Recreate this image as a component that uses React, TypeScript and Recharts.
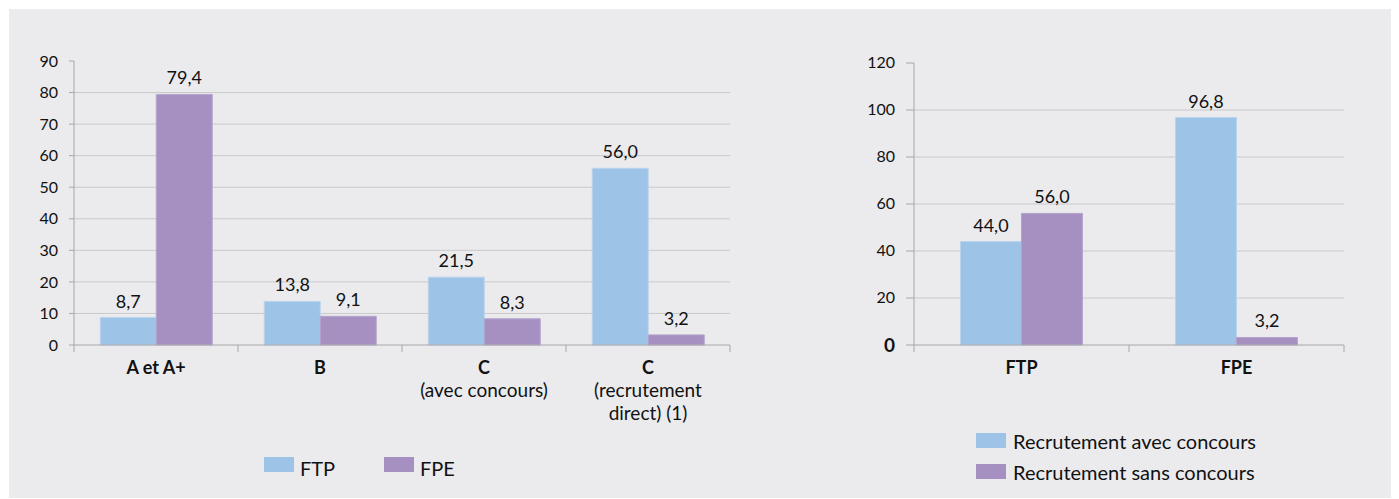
import React from "react";
import { BarChart, Bar, XAxis, YAxis, CartesianGrid, LabelList } from "recharts";

// ---- Data ----
const leftCategories = ["A et A+", "B", "C", "C"];
const leftSubLabels = [[], [], ["(avec concours)"], ["(recrutement", "direct) (1)"]];
const leftFTP = [8.7, 13.8, 21.5, 56.0];
const leftFPE = [79.4, 9.1, 8.3, 3.2];
const leftTicks = [0, 10, 20, 30, 40, 50, 60, 70, 80, 90];
const leftGrid = [10, 20, 30, 40, 50, 60, 70, 80];
const leftSeriesNames = ["FTP", "FPE"];

const rightCategories = ["FTP", "FPE"];
const rightAvec = [44.0, 96.8];
const rightSans = [56.0, 3.2];
const rightTicks = [0, 20, 40, 60, 80, 100, 120];
const rightGrid = [20, 40, 60, 80, 100];
const rightSeriesNames = ["Recrutement avec concours", "Recrutement sans concours"];

// ---- Styles ----
const BLUE = "#9DC3E6";
const PURPLE = "#A590C1";
const BG = "#EBEBEE";
const GRID = "#C9C9CB";
const AXIS = "#A8A8AA";
const TEXT = "#111111";
const FONT = "Lato, 'Open Sans', sans-serif";

const leftData = leftCategories.map((c, i) => ({ cat: c, idx: i, ftp: leftFTP[i], fpe: leftFPE[i] }));
const rightData = rightCategories.map((c, i) => ({ cat: c, idx: i, avec: rightAvec[i], sans: rightSans[i] }));

const fmt = (v: any) => Number(v).toFixed(1).replace(".", ",");

const LEFT_W = 740, LEFT_H = 480, LEFT_YW = 65, LEFT_MR = 19;
const RIGHT_W = 560, RIGHT_H = 480, RIGHT_YW = 85, RIGHT_MR = 45;

function makeXTick(main: string[], subs: string[][], step: number, n: number) {
  return (props: any) => {
    const { x, y, payload, index } = props;
    const i = typeof payload?.index === "number" ? payload.index : index;
    const lines = subs[i] || [];
    return (
      <g>
        <line x1={x - step / 2} y1={y} x2={x - step / 2} y2={y + 7} stroke={AXIS} />
        {i === n - 1 && <line x1={x + step / 2} y1={y} x2={x + step / 2} y2={y + 7} stroke={AXIS} />}
        <text x={x} y={y + 29} textAnchor="middle" fontFamily={FONT} fontSize={18} fontWeight={700} fill={TEXT}>
          {main[i]}
        </text>
        {lines.map((l, k) => (
          <text key={k} x={x} y={y + 52 + k * 23} textAnchor="middle" fontFamily={FONT} fontSize={19} fill={TEXT}>
            {l}
          </text>
        ))}
      </g>
    );
  };
}

const RightYTick = (props: any) => {
  const { x, y, payload } = props;
  const zero = payload.value === 0;
  return (
    <text x={x} y={y} dy={zero ? 7 : 5} textAnchor="end" fontFamily={FONT} fontSize={zero ? 19 : 16} fontWeight={zero ? 700 : 400} fill={TEXT}>
      {payload.value}
    </text>
  );
};

const LegendItem = ({ color, label, left, top, textLeft, textTop }: { color: string; label: string; left: number; top: number; textLeft: number; textTop: number }) => (
  <>
    <div style={{ position: "absolute", left, top, width: 30, height: 15, background: color }} />
    <div style={{ position: "absolute", left: textLeft, top: textTop, fontFamily: FONT, fontSize: 20, lineHeight: "20px", color: TEXT, whiteSpace: "nowrap" }}>
      {label}
    </div>
  </>
);

export default function App() {
  const leftStep = (LEFT_W - LEFT_YW - LEFT_MR) / leftCategories.length;
  const rightStep = (RIGHT_W - RIGHT_YW - RIGHT_MR) / rightCategories.length;
  const labelStyle = { fontFamily: FONT, fontSize: 18, fill: TEXT };
  return (
    <div style={{ position: "relative", left: 1, top: 1, width: 1390, height: 490, background: BG }}>
      <div style={{ position: "absolute", left: 0, top: 0 }}>
        <BarChart width={LEFT_W} height={LEFT_H} data={leftData} margin={{ top: 52, right: LEFT_MR, bottom: 54, left: 0 }} barCategoryGap="16%" barGap={0}>
          <CartesianGrid vertical={false} stroke={GRID} horizontalValues={leftGrid} />
          <XAxis dataKey="cat" height={90} interval={0} tickLine={false} tickSize={0} tickMargin={0} axisLine={{ stroke: AXIS }} tick={makeXTick(leftCategories, leftSubLabels, leftStep, leftCategories.length)} />
          <YAxis width={LEFT_YW} domain={[0, 90]} ticks={leftTicks} interval={0} tickSize={5} tickMargin={11} axisLine={{ stroke: AXIS }} tickLine={{ stroke: AXIS }} tick={{ fontFamily: FONT, fontSize: 16, fill: TEXT }} />
          <Bar dataKey="ftp" name={leftSeriesNames[0]} fill={BLUE} stroke="#B9D4EE" strokeWidth={1} isAnimationActive={false}>
            <LabelList dataKey="ftp" position="top" offset={10} formatter={fmt} style={labelStyle} />
          </Bar>
          <Bar dataKey="fpe" name={leftSeriesNames[1]} fill={PURPLE} stroke="#B5A4CC" strokeWidth={1} isAnimationActive={false}>
            <LabelList dataKey="fpe" position="top" offset={10} formatter={fmt} style={labelStyle} />
          </Bar>
        </BarChart>
      </div>
      <LegendItem color={BLUE} label={leftSeriesNames[0]} left={255} top={448} textLeft={291} textTop={449} />
      <LegendItem color={PURPLE} label={leftSeriesNames[1]} left={375} top={448} textLeft={411} textTop={449} />

      <div style={{ position: "absolute", left: 820, top: 0 }}>
        <BarChart width={RIGHT_W} height={RIGHT_H} data={rightData} margin={{ top: 54, right: RIGHT_MR, bottom: 54, left: 0 }} barCategoryGap="21.6%" barGap={0}>
          <CartesianGrid vertical={false} stroke={GRID} horizontalValues={rightGrid} />
          <XAxis dataKey="cat" height={90} interval={0} tickLine={false} tickSize={0} tickMargin={0} axisLine={{ stroke: AXIS }} tick={makeXTick(rightCategories, [[], []], rightStep, rightCategories.length)} />
          <YAxis width={RIGHT_YW} domain={[0, 120]} ticks={rightTicks} interval={0} tickSize={8} tickMargin={11} axisLine={{ stroke: AXIS }} tickLine={{ stroke: AXIS }} tick={<RightYTick />} />
          <Bar dataKey="avec" name={rightSeriesNames[0]} fill={BLUE} stroke="#B9D4EE" strokeWidth={1} isAnimationActive={false}>
            <LabelList dataKey="avec" position="top" offset={10} formatter={fmt} style={labelStyle} />
          </Bar>
          <Bar dataKey="sans" name={rightSeriesNames[1]} fill={PURPLE} stroke="#B5A4CC" strokeWidth={1} isAnimationActive={false}>
            <LabelList dataKey="sans" position="top" offset={10} formatter={fmt} style={labelStyle} />
          </Bar>
        </BarChart>
      </div>
      <LegendItem color={BLUE} label={rightSeriesNames[0]} left={967} top={424} textLeft={1004} textTop={422} />
      <LegendItem color={PURPLE} label={rightSeriesNames[1]} left={967} top={455} textLeft={1004} textTop={453} />
    </div>
  );
}
